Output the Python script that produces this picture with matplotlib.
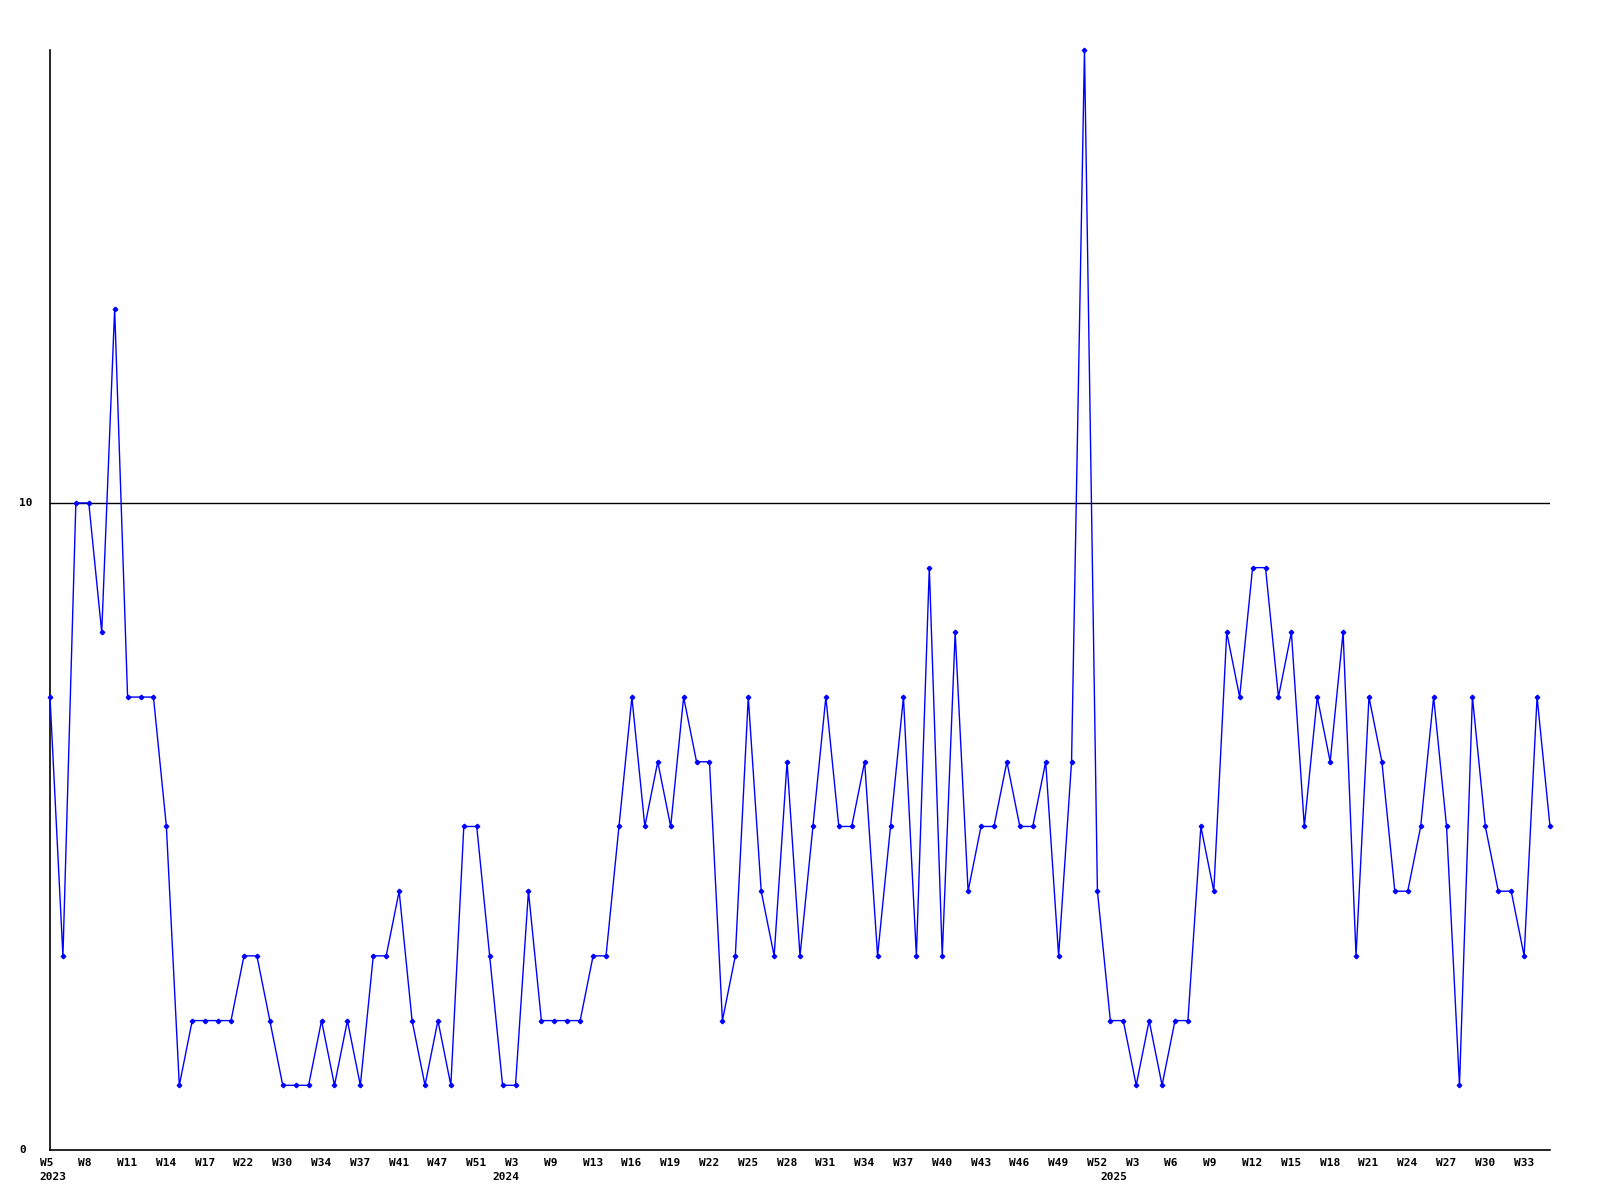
import matplotlib
matplotlib.use("Agg")
import matplotlib.pyplot as plt
from matplotlib.transforms import blended_transform_factory, offset_copy

values = [7, 3, 10, 10, 8, 13, 7, 7, 7, 5, 1, 2, 2, 2, 2, 3, 3, 2, 1, 1,
          1, 2, 1, 2, 1, 3, 3, 4, 2, 1, 2, 1, 5, 5, 3, 1, 1, 4, 2, 2,
          2, 2, 3, 3, 5, 7, 5, 6, 5, 7, 6, 6, 2, 3, 7, 4, 3, 6, 3, 5,
          7, 5, 5, 6, 3, 5, 7, 3, 9, 3, 8, 4, 5, 5, 6, 5, 5, 6, 3, 6,
          17, 4, 2, 2, 1, 2, 1, 2, 2, 5, 4, 8, 7, 9, 9, 7, 8, 5, 7, 6,
          8, 3, 7, 6, 4, 4, 5, 7, 5, 1, 7, 5, 4, 4, 3, 7, 5]

week_labels = ["W5", "W8", "W11", "W14", "W17", "W22", "W30", "W34", "W37", "W41",
               "W47", "W51", "W3", "W9", "W13", "W16", "W19", "W22", "W25", "W28",
               "W31", "W34", "W37", "W40", "W43", "W46", "W49", "W52", "W3", "W6",
               "W9", "W12", "W15", "W18", "W21", "W24", "W27", "W30", "W33"]
label_step = 3

years = ["2023", "2024", "2025"]
year_x = [-0.8, 34.2, 81.2]

y_ticks = [0, 10]
y_max = 17

W, H = 1600, 1200
fig = plt.figure(figsize=(16, 12), dpi=100)
L, R, T, B = 50, 1550, 50, 1150
ax = fig.add_axes([L / W, 1 - B / H, (R - L) / W, (B - T) / H])

x = list(range(len(values)))
ax.plot(x, values, color="#0000ff", lw=1, marker="D", ms=2.3, mec="#0000ff", mfc="#0000ff",
        clip_on=False, zorder=3)
ax.set_xlim(0, len(values) - 1)
ax.set_ylim(0, y_max)

ax.axhline(10, color="black", lw=1, zorder=2)
for s in ["top", "right"]:
    ax.spines[s].set_visible(False)
for s in ["left", "bottom"]:
    ax.spines[s].set_color("black")
    ax.spines[s].set_linewidth(1.2)
ax.set_xticks([])
ax.set_yticks([])

font = dict(family="DejaVu Sans Mono", weight="bold", size=8, color="black")

# x tick labels
trans_x = blended_transform_factory(ax.transData, ax.transAxes)
lab_tr = offset_copy(trans_x, fig=fig, x=-10.5, y=-8, units="dots")
for i, lab in enumerate(week_labels):
    ax.text(i * label_step, 0, lab, transform=lab_tr, ha="left", va="top", **font)

yr_tr = offset_copy(trans_x, fig=fig, x=0, y=-22, units="dots")
for xp, yl in zip(year_x, years):
    ax.text(xp, 0, yl, transform=yr_tr, ha="left", va="top", **font)

# y tick labels
trans_y = blended_transform_factory(ax.transAxes, ax.transData)
ytr = offset_copy(trans_y, fig=fig, x=-30.5, y=0, units="dots")
for v in y_ticks:
    ax.text(0, v, str(v), transform=ytr, ha="left", va="center", **font)

fig.savefig("out.png", dpi=100, facecolor="white")
